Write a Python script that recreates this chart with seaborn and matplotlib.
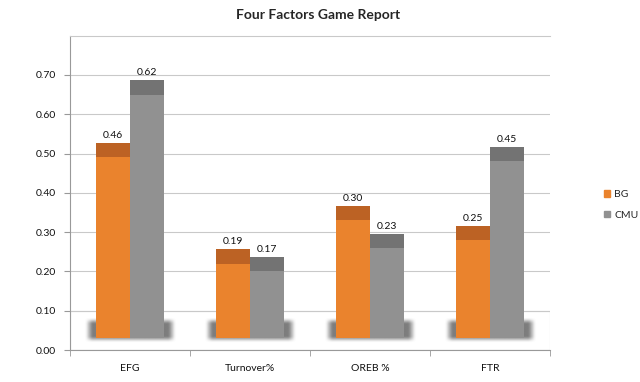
import numpy as np
import pandas as pd
import matplotlib.pyplot as plt
from matplotlib.patches import Rectangle, Patch
import seaborn as sns

factors = ["EFG", "Turnover%", "OREB %", "FTR"]
teams = ["BG", "CMU"]
bg = [0.46, 0.19, 0.30, 0.25]
cmu = [0.62, 0.17, 0.23, 0.45]

FRONT = {"BG": "#EA832D", "CMU": "#919191"}
TOP = {"BG": "#BC6224", "CMU": "#737373"}
FLOOR = 0.03   # bars stand on the 3d floor
CAP = 0.036    # depth of the bar lid
GRID = "#C9C9C9"

df = pd.DataFrame({
    "factor": factors * 2,
    "team": ["BG"] * len(bg) + ["CMU"] * len(cmu),
    "value": bg + cmu,
})

sns.set_style("white")
plt.rcParams["font.family"] = ["Lato", "DejaVu Sans"]

fig = plt.figure(figsize=(6.4, 3.82), dpi=100)
ax = fig.add_axes([70 / 640, 32 / 382, 480 / 640, 314.4 / 382])

sns.barplot(data=df, x="factor", y="value", hue="team", palette=FRONT,
            width=0.567, saturation=1, errorbar=None, linewidth=0,
            legend=False, zorder=3, ax=ax)

# lift bars onto the floor, add the darker lid and value labels
for container, team, vals in zip(ax.containers, teams, [bg, cmu]):
    for bar, v in zip(container, vals):
        x, w, h = bar.get_x(), bar.get_width(), bar.get_height()
        bar.set_y(FLOOR)
        ax.add_patch(Rectangle((x, FLOOR + h), w, CAP, color=TOP[team],
                               lw=0, zorder=3))
        ax.text(x + w / 2, FLOOR + h + CAP + 0.008, f"{v:.2f}",
                ha="center", va="bottom", fontsize=7.5, color="#111111")


def soft(n, edge):
    u = np.abs(np.linspace(-1, 1, n))
    t = np.clip((1 - u) / edge, 0, 1)
    return t * t * (3 - 2 * t)


# blurry shadow under each pair of bars
shade = np.zeros((40, 120, 4))
shade[..., :3] = 0.4
shade[..., 3] = 0.85 * np.outer(soft(40, 0.55), soft(120, 0.2))
for i in range(len(factors)):
    left = ax.containers[0][i].get_x()
    right = ax.containers[1][i].get_x() + ax.containers[1][i].get_width()
    ax.imshow(shade, extent=(left - 0.1, right + 0.1, 0.017, 0.083),
              aspect="auto", zorder=2, interpolation="bilinear")

ax.set_xlim(-0.5, len(factors) - 0.5)
ax.set_ylim(0, 0.8)
ax.set_yticks(np.arange(0, 0.71, 0.1))
ax.set_yticklabels([f"{t:.2f}" for t in np.arange(0, 0.71, 0.1)])
ax.yaxis.grid(True, color=GRID, lw=0.8)
ax.set_axisbelow(True)

# floor box
ax.add_patch(Rectangle((-0.5, 0), len(factors), 0.1, fill=False,
                       edgecolor=GRID, lw=0.8, zorder=1))

ax.set_xticks(range(len(factors)))
ax.set_xticklabels(factors)
ax.set_xticks(np.arange(-0.5, len(factors), 1), minor=True)
ax.tick_params(axis="x", which="major", length=0, pad=10, labelsize=7.5,
               labelcolor="#111111")
ax.tick_params(axis="x", which="minor", bottom=True, length=4, color="#999999")
ax.tick_params(axis="y", left=True, length=4, color="#999999", labelsize=7.5,
               labelcolor="#111111", pad=6)
ax.set_xlabel("")
ax.set_ylabel("")

for side in ["left", "bottom"]:
    ax.spines[side].set_color("#999999")
    ax.spines[side].set_linewidth(0.8)
ax.spines["top"].set_color(GRID)
ax.spines["top"].set_linewidth(0.8)
ax.spines["right"].set_visible(False)

fig.legend(handles=[Patch(color=FRONT[t], label=t) for t in teams],
           loc="center left", bbox_to_anchor=(0.935, 1 - 205 / 382),
           frameon=False, borderpad=0, handlelength=0.6, handleheight=0.6,
           handletextpad=0.4, labelspacing=1.1, fontsize=7.5)

fig.text(0.497, 0.96, "Four Factors Game Report", ha="center", va="center",
         fontsize=10, fontweight="bold")

fig.savefig("out.png", dpi=100)
